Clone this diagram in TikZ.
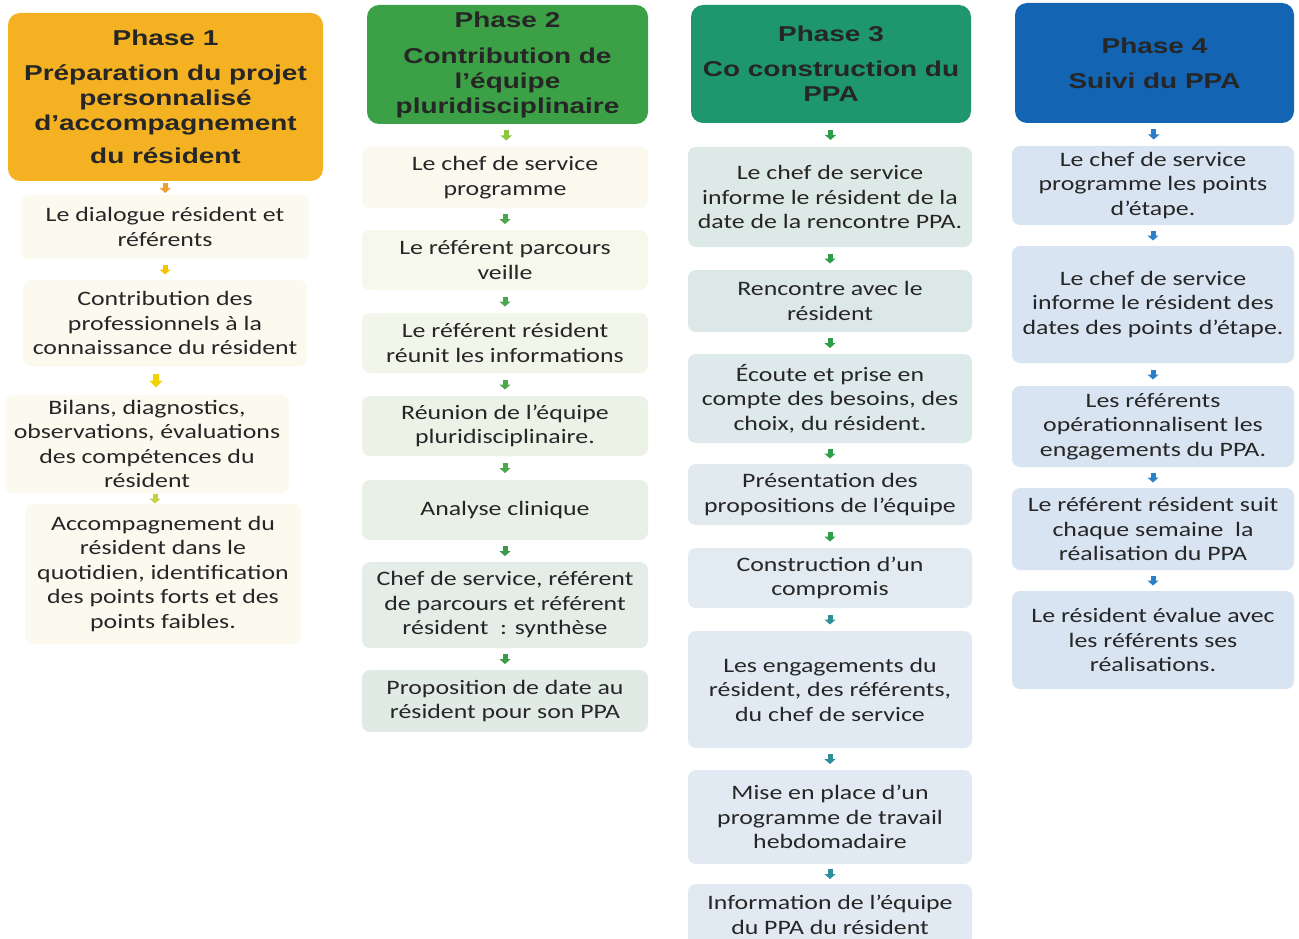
\documentclass[tikz,border=0pt]{standalone}
\usepackage{fontspec}
\setmainfont{Carlito}[FakeStretch=1.26]
\newfontfamily\hdrfam{Liberation Sans}[FakeStretch=1.3]
\usetikzlibrary{arrows.meta,calc}
\definecolor{txt}{HTML}{262626}
\definecolor{hOrange}{HTML}{F4B223}
\definecolor{hGreen}{HTML}{3CA046}
\definecolor{hTeal}{HTML}{1E966E}
\definecolor{hBlue}{HTML}{1464B4}
\definecolor{fCream}{HTML}{FCF9EE}
\definecolor{fG1}{HTML}{FBF9EE}
\definecolor{fG2}{HTML}{F7F8EC}
\definecolor{fG3}{HTML}{F2F5E9}
\definecolor{fG4}{HTML}{EDF2E6}
\definecolor{fG5}{HTML}{E9F0E6}
\definecolor{fG6}{HTML}{E4EDE7}
\definecolor{fG7}{HTML}{E1EBE5}
\definecolor{fT1}{HTML}{DDE9E6}
\definecolor{fT2}{HTML}{DCE8E8}
\definecolor{fT3}{HTML}{DEE9EC}
\definecolor{fT4}{HTML}{E0EAEF}
\definecolor{fT5}{HTML}{E1EBF1}
\definecolor{fT6}{HTML}{E1EAF3}
\definecolor{fB}{HTML}{D8E4F2}
\definecolor{aOr}{HTML}{F0A030}
\definecolor{aYe}{HTML}{F5C400}
\definecolor{aYe2}{HTML}{F2D200}
\definecolor{aYG}{HTML}{C8D040}
\definecolor{aLG}{HTML}{8CC63F}
\definecolor{aGr}{HTML}{4BA84A}
\definecolor{aGr2}{HTML}{3A9A48}
\definecolor{aTG}{HTML}{2E9E4A}
\definecolor{aTe}{HTML}{2C8F9A}
\definecolor{aBl}{HTML}{2A80C8}
\newcommand\myBody{\fontsize{20.5}{24.5}\selectfont}
\newcommand\myHdr{\hdrfam\bfseries\fontsize{21.5}{25}\selectfont}
\tikzset{
  hdrbox/.style={rounded corners=12pt, align=center, font=\myHdr, text=txt, inner sep=0pt},
  stepbox/.style={rounded corners=8pt, align=center, font=\myBody, text=txt, inner sep=0pt},
  flow/.style={line width=5pt, -{Triangle[width=11pt,length=5pt]},
    to path={($(\tikztostart.south)!.5!(\tikztotarget.north)$) ++(0,-5) -- ++(0,10)}},
  flowbig/.style={line width=6pt, -{Triangle[width=13pt,length=7pt]},
    to path={($(\tikztostart.south)!.5!(\tikztotarget.north)$) ++(0,-7) -- ++(0,14)}},
}
\begin{document}
\begin{tikzpicture}[x=1pt,y=-1pt]
\useasboundingbox (0,0) rectangle (1299,939);
\fill[white] (0,0) rectangle (1299,939);

% ---------------- Column 1 ----------------
\node[hdrbox, fill=hOrange, minimum width=315, minimum height=168] (h1) at (165.5,97)
  {Phase 1\\[10pt]Préparation du projet\\personnalisé\\d’accompagnement\\[8pt]du résident};
\node[stepbox, fill=fCream, minimum width=288, minimum height=64] (a1) at (165,227)
  {Le dialogue résident et\\référents};
\node[stepbox, fill=fCream, minimum width=284, minimum height=86] (a2) at (165,323)
  {Contribution des\\professionnels à la\\connaissance du résident};
\node[stepbox, fill=fCream, minimum width=284, minimum height=98] (a3) at (147,444)
  {Bilans, diagnostics,\\observations, évaluations\\des compétences du\\résident};
\node[stepbox, fill=fCream, minimum width=276, minimum height=140] (a4) at (163,574)
  {Accompagnement du\\résident dans le\\quotidien, identification\\des points forts et des\\points faibles.};
\draw[flow, draw=aOr] (h1) to (a1);
\draw[flow, draw=aYe] (a1) to (a2);
\draw[flowbig, draw=aYe2] (a2) to (a3);
\draw[flow, draw=aYG] (a3) to (a4);

% ---------------- Column 2 ----------------
\node[hdrbox, fill=hGreen, minimum width=281, minimum height=119] (h2) at (507.5,64.5)
  {Phase 2\\[11pt]Contribution de\\l’équipe\\pluridisciplinaire};
\node[stepbox, fill=fG1, minimum width=286, minimum height=61] (b1) at (505,177.5)
  {Le chef de service\\programme};
\node[stepbox, fill=fG2, minimum width=286, minimum height=60] (b2) at (505,260)
  {Le référent parcours\\veille};
\node[stepbox, fill=fG3, minimum width=286, minimum height=60] (b3) at (505,343)
  {Le référent résident\\réunit les informations};
\node[stepbox, fill=fG4, minimum width=286, minimum height=60] (b4) at (505,426)
  {Réunion de l’équipe\\pluridisciplinaire.};
\node[stepbox, fill=fG5, minimum width=286, minimum height=60] (b5) at (505,510)
  {Analyse clinique};
\node[stepbox, fill=fG6, minimum width=286, minimum height=86] (b6) at (505,605)
  {Chef de service, référent\\de parcours et référent\\résident~\ : synthèse};
\node[stepbox, fill=fG7, minimum width=286, minimum height=62] (b7) at (505,701)
  {Proposition de date au\\résident pour son PPA};
\draw[flow, draw=aLG] (h2) to (b1);
\draw[flow, draw=aGr] (b1) to (b2);
\draw[flow, draw=aGr] (b2) to (b3);
\draw[flow, draw=aGr] (b3) to (b4);
\draw[flow, draw=aGr] (b4) to (b5);
\draw[flow, draw=aGr2] (b5) to (b6);
\draw[flow, draw=aGr2] (b6) to (b7);

% ---------------- Column 3 ----------------
\node[hdrbox, fill=hTeal, minimum width=280, minimum height=118] (h3) at (831,64)
  {Phase 3\\[10pt]Co construction du\\PPA};
\node[stepbox, fill=fT1, minimum width=284, minimum height=100] (c1) at (830,197)
  {Le chef de service\\informe le résident de la\\date de la rencontre PPA.};
\node[stepbox, fill=fT2, minimum width=284, minimum height=62] (c2) at (830,301)
  {Rencontre avec le\\résident};
\node[stepbox, fill=fT3, minimum width=284, minimum height=89] (c3) at (830,398.5)
  {Écoute et prise en\\compte des besoins, des\\choix, du résident.};
\node[stepbox, fill=fT4, minimum width=284, minimum height=61] (c4) at (830,494.5)
  {Présentation des\\propositions de l’équipe};
\node[stepbox, fill=fT5, minimum width=284, minimum height=60] (c5) at (830,578)
  {Construction d’un\\compromis};
\node[stepbox, fill=fT6, minimum width=284, minimum height=117] (c6) at (830,689.5)
  {Les engagements du\\résident, des référents,\\du chef de service};
\node[stepbox, fill=fT6, minimum width=284, minimum height=94] (c7) at (830,817)
  {Mise en place d’un\\programme de travail\\hebdomadaire};
\node[stepbox, fill=fT6, minimum width=284, minimum height=62] (c8) at (830,915)
  {Information de l’équipe\\du PPA du résident};
\draw[flow, draw=aTG] (h3) to (c1);
\draw[flow, draw=aTG] (c1) to (c2);
\draw[flow, draw=aTG] (c2) to (c3);
\draw[flow, draw=aTG] (c3) to (c4);
\draw[flow, draw=aTG] (c4) to (c5);
\draw[flow, draw=aTe] (c5) to (c6);
\draw[flow, draw=aTe] (c6) to (c7);
\draw[flow, draw=aTe] (c7) to (c8);

% ---------------- Column 4 ----------------
\node[hdrbox, fill=hBlue, minimum width=279, minimum height=120] (h4) at (1154.5,63)
  {Phase 4\\[10pt]Suivi du PPA};
\node[stepbox, fill=fB, minimum width=282, minimum height=79] (d1) at (1153,185.5)
  {Le chef de service\\programme les points\\d’étape.};
\node[stepbox, fill=fB, minimum width=282, minimum height=117] (d2) at (1153,304.5)
  {Le chef de service\\informe le résident des\\dates des points d’étape.};
\node[stepbox, fill=fB, minimum width=282, minimum height=81] (d3) at (1153,426.5)
  {Les référents\\opérationnalisent les\\engagements du PPA.};
\node[stepbox, fill=fB, minimum width=282, minimum height=82] (d4) at (1153,529)
  {Le référent résident suit\\chaque semaine~\ la\\réalisation du PPA};
\node[stepbox, fill=fB, minimum width=282, minimum height=98] (d5) at (1153,640)
  {Le résident évalue avec\\les référents ses\\réalisations.};
\draw[flow, draw=aBl] (h4) to (d1);
\draw[flow, draw=aBl] (d1) to (d2);
\draw[flow, draw=aBl] (d2) to (d3);
\draw[flow, draw=aBl] (d3) to (d4);
\draw[flow, draw=aBl] (d4) to (d5);
\end{tikzpicture}
\end{document}
